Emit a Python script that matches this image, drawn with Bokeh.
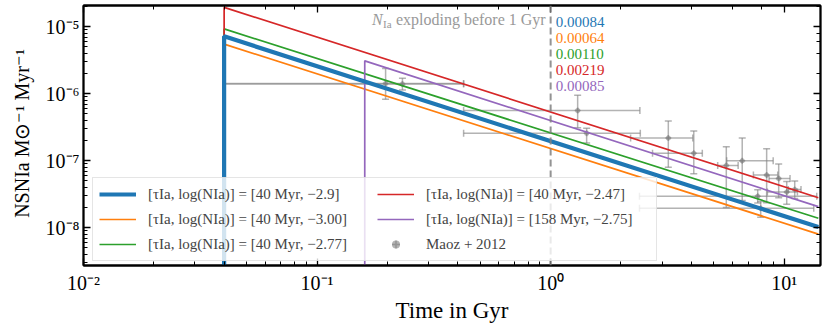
from bokeh.plotting import figure
from bokeh.models import (ColumnDataSource, Legend, LegendItem, LogAxis,
                          CustomJSTickFormatter, Range1d, Span)
from bokeh.core.properties import value
from bokeh.embed import file_html
from bokeh.resources import INLINE

# ---------------- data ----------------
# model delay-time distributions (start at tau, end at t_end)
tau_myr = [40, 40, 40, 40, 158]
log_nia_labels = ["−2.9", "−3.00", "−2.77", "−2.47", "−2.75"]
tau_gyr = [0.04, 0.04, 0.04, 0.04, 0.16]
rate_start = [7.2e-6, 5.5e-6, 9.3e-6, 1.95e-5, 3.1e-6]
t_end = 14.0
rate_end = [1.02e-8, 8.0e-9, 1.38e-8, 2.8e-8, 2.06e-8]
nia_before_1gyr = [0.00084, 0.00064, 0.00110, 0.00219, 0.00085]
cut_gyr = 1.0

# Maoz+2012 compilation
maoz_t = [0.1965, 0.232, 1.305, 1.426, 3.19, 4.10, 5.65, 6.61, 7.70, 7.93, 8.41, 9.47, 10.25, 11.09]
maoz_n = [1.42e-6, 1.40e-6, 5.6e-7, 2.57e-7, 2.18e-7, 1.29e-7, 8.5e-8, 1.0e-7, 2.94e-8, 1.95e-8, 6.1e-8, 5.4e-8, 3.4e-8, 3.7e-8]
maoz_t_lo = [0.040, 0.040, 0.424, 0.424, 2.20, 2.73, 5.19, 5.67, 2.40, 2.40, 7.38, 8.61, 8.47, 10.4]
maoz_t_hi = [0.424, 0.424, 2.41, 2.42, 4.06, 4.46, 6.35, 8.97, 13.78, 13.38, 9.38, 10.59, 11.39, 11.8]
maoz_n_lo = [8.3e-7, 1.14e-6, 3.1e-7, 1.84e-7, 8.0e-8, 6.4e-8, 2.0e-8, 2.55e-8, 2.34e-8, 1.43e-8, 2.36e-8, 2.79e-8, 2.23e-8, 2.72e-8]
maoz_n_hi = [2.38e-6, 1.71e-6, 9.5e-7, 3.06e-7, 3.93e-7, 2.77e-7, 1.62e-7, 2.18e-7, 3.67e-8, 2.46e-8, 1.51e-7, 8.96e-8, 4.88e-8, 4.96e-8]

x_lo, x_hi = 0.01, 14.3
y_lo, y_hi = 2.72e-9, 2.08e-5

colors = ["#1f77b4", "#ff7f0e", "#2ca02c", "#d62728", "#9467bd"]
widths = [4.2, 1.7, 1.7, 1.7, 1.7]
FONT = "Liberation Serif"

# ---------------- figure ----------------
p = figure(width=822, height=325, x_axis_type="log", y_axis_type="log",
           x_range=Range1d(x_lo, x_hi), y_range=Range1d(y_lo, y_hi),
           output_backend="svg", toolbar_location=None,
           min_border_left=83, min_border_right=2, min_border_top=5,
           min_border_bottom=52)
p.xgrid.visible = False
p.ygrid.visible = False
p.outline_line_color = "black"
p.outline_line_width = 1.8
p.background_fill_color = "white"
p.border_fill_color = "white"

fmt = CustomJSTickFormatter(code=r"""
const sup = {'-':'\u207b','0':'\u2070','1':'\u00b9','2':'\u00b2','3':'\u00b3','4':'\u2074','5':'\u2075','6':'\u2076','7':'\u2077','8':'\u2078','9':'\u2079'};
const e = Math.round(Math.log10(tick));
return '10' + String(e).split('').map(c => sup[c]).join('');
""")

xax = p.below[0]
yax = p.left[0]
top = LogAxis()
right = LogAxis()
p.add_layout(top, "above")
p.add_layout(right, "right")
for ax in (xax, yax, top, right):
    ax.formatter = fmt
    ax.major_tick_in = 7
    ax.major_tick_out = 0
    ax.minor_tick_in = 4
    ax.minor_tick_out = 0
    ax.major_tick_line_width = 1.3
    ax.minor_tick_line_width = 1.0
    ax.major_tick_line_color = "black"
    ax.minor_tick_line_color = "black"
    ax.axis_line_color = "black"
    ax.axis_line_width = 1.8
    ax.major_label_text_font = FONT
    ax.major_label_text_font_size = "20px"
    ax.major_label_text_color = "black"
    ax.axis_label_text_font = FONT
    ax.axis_label_text_font_style = "normal"
    ax.axis_label_text_font_size = "23px"
    ax.axis_label_text_color = "black"
for ax in (top, right):
    ax.major_label_text_font_size = "1px"
    ax.major_label_text_color = None
    ax.major_label_standoff = 0
xax.major_label_standoff = 6
yax.major_label_standoff = 4
xax.axis_label = "Time in Gyr"
xax.axis_label_standoff = 1
yax.axis_label = "NSNIa M⊙⁻¹ Myr⁻¹"
yax.axis_label_text_font_size = "20px"
yax.axis_label_standoff = 10

# ---------------- Maoz error bars ----------------
src = ColumnDataSource(dict(t=maoz_t, n=maoz_n, tlo=maoz_t_lo, thi=maoz_t_hi,
                            nlo=maoz_n_lo, nhi=maoz_n_hi))
ecol, ealpha, ew = "gray", 0.6, 1.5
p.segment(x0="tlo", y0="n", x1="thi", y1="n", source=src, line_color=ecol,
          line_alpha=ealpha, line_width=ew)
p.segment(x0="t", y0="nlo", x1="t", y1="nhi", source=src, line_color=ecol,
          line_alpha=ealpha, line_width=ew)
for xc, yc, ang in (("tlo", "n", 1.5708), ("thi", "n", 1.5708),
                    ("t", "nlo", 0.0), ("t", "nhi", 0.0)):
    p.scatter(x=xc, y=yc, source=src, marker="dash", size=7, angle=ang,
              line_color=ecol, line_alpha=ealpha, line_width=ew)
cross_r = p.scatter(x="t", y="n", source=src, marker="cross", size=6,
                    line_color=ecol, line_alpha=ealpha, line_width=ew)
circ_r = p.scatter(x="t", y="n", source=src, marker="circle", size=5,
                   fill_color=ecol, fill_alpha=ealpha, line_color=None)

# ---------------- model lines ----------------
line_r = [None] * 5
for i in (1, 2, 4, 3, 0):
    xs = [tau_gyr[i], tau_gyr[i], t_end]
    ys = [y_lo, rate_start[i], rate_end[i]]
    line_r[i] = p.line(xs, ys, line_color=colors[i], line_width=widths[i])

# dashed 1 Gyr line
p.add_layout(Span(location=cut_gyr, dimension="height", line_color="gray",
                  line_alpha=0.85, line_width=2, line_dash="7 4"))

# annotation
gray_txt = "#999999"
p.text(x=[cut_gyr], y=[y_hi], text=["exploding before 1 Gyr"], x_offset=-5,
       y_offset=14, text_align="right", text_baseline="middle",
       text_font=value(FONT), text_font_size="16px", text_color=gray_txt)
p.text(x=[cut_gyr], y=[y_hi], text=["Ia"], x_offset=-159,
       y_offset=18, text_align="right", text_baseline="middle",
       text_font=value(FONT), text_font_size="11px", text_color=gray_txt)
p.text(x=[cut_gyr], y=[y_hi], text=["N"], x_offset=-168,
       y_offset=14, text_align="right", text_baseline="middle",
       text_font=value(FONT), text_font_size="16px", text_font_style="italic",
       text_color=gray_txt)
vsrc = ColumnDataSource(dict(
    x=[cut_gyr] * len(nia_before_1gyr), y=[y_hi] * len(nia_before_1gyr),
    txt=[f"{v:.5f}" for v in nia_before_1gyr], col=colors,
    dy=[16.5 + 16 * i for i in range(len(nia_before_1gyr))]))
p.text(x="x", y="y", text="txt", text_color="col", y_offset="dy", x_offset=5,
       source=vsrc, text_align="left", text_baseline="middle",
       text_font=value(FONT), text_font_size="15px")

# ---------------- legend ----------------
items = [LegendItem(label=f"[τIa, log(NIa)] = [{tau_myr[i]} Myr, {log_nia_labels[i]}]",
                    renderers=[line_r[i]]) for i in range(5)]
items.append(LegendItem(label="Maoz + 2012", renderers=[cross_r, circ_r]))
legend = Legend(items=items, location=(9, 4), ncols=2,
                background_fill_color="white", background_fill_alpha=0.8,
                border_line_color="#cccccc", border_line_width=1,
                glyph_width=37, glyph_height=20, label_standoff=12,
                spacing=5, padding=6, label_text_font=FONT,
                label_text_font_size="15px", label_height=20,
                label_width=224)
p.add_layout(legend)

open("out.html", "w").write(file_html(p, INLINE))
